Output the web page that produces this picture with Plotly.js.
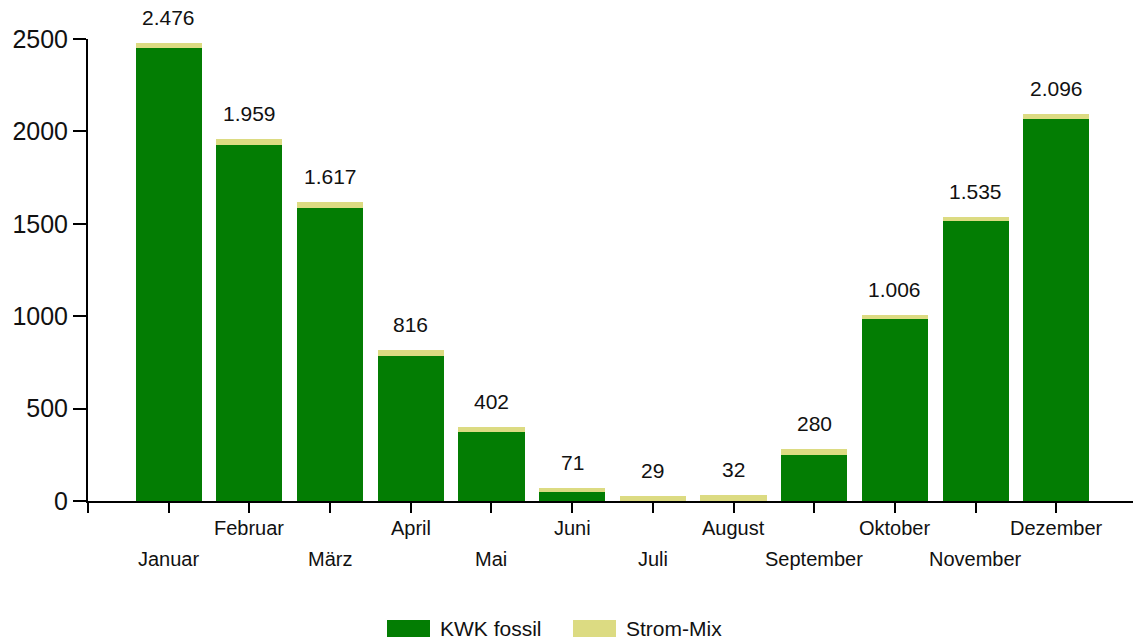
<!DOCTYPE html>
<html>
<head>
<meta charset="utf-8">
<script src="https://cdn.plot.ly/plotly-3.0.1.min.js"></script>
<style>
  html, body { margin: 0; padding: 0; background: #ffffff; }
  #chart { width: 1133px; height: 641px; }
</style>
</head>
<body>
<div id="chart"></div>
<script>
// Monthly heat demand by source
const months = ["Januar", "Februar", "März", "April", "Mai", "Juni",
                "Juli", "August", "September", "Oktober", "November", "Dezember"];
const kwkFossil = [2454, 1929, 1587, 786, 372, 49, 0, 0, 250, 984, 1513, 2066];
const stromMix  = [22, 30, 30, 30, 30, 22, 29, 32, 30, 22, 22, 30];
const totals    = [2476, 1959, 1617, 816, 402, 71, 29, 32, 280, 1006, 1535, 2096];
const yTicks    = [0, 500, 1000, 1500, 2000, 2500];

const GREEN = "#037d03";
const YELLOW = "#dcdb82";
const FONT = "Liberation Sans, Arial, sans-serif";

const idx = months.map((_, i) => i);

// German thousands separator
function fmt(n) {
  return String(n).replace(/\B(?=(\d{3})+(?!\d))/g, ".");
}

const traces = [
  { type: "bar", name: "KWK fossil", x: idx, y: kwkFossil,
    marker: { color: GREEN }, width: 0.82, showlegend: false, hoverinfo: "y" },
  { type: "bar", name: "Strom-Mix", x: idx, y: stromMix,
    marker: { color: YELLOW }, width: 0.82, showlegend: false, hoverinfo: "y" }
];

const annotations = [];
// total labels above each bar
idx.forEach(i => {
  annotations.push({
    x: i, y: totals[i], xref: "x", yref: "y",
    text: fmt(totals[i]), showarrow: false,
    yanchor: "bottom", yshift: 12,
    font: { family: FONT, size: 21, color: "#111" }
  });
});
// month labels in two staggered rows
idx.forEach(i => {
  annotations.push({
    x: i, y: 0, xref: "x", yref: "paper",
    text: months[i], showarrow: false,
    yanchor: "middle", yshift: (i % 2 === 0) ? -58 : -27,
    font: { family: FONT, size: 20, color: "#111" }
  });
});

// legend
const legendItems = [
  { label: "KWK fossil", color: GREEN, x0: 387 },
  { label: "Strom-Mix", color: YELLOW, x0: 573 }
];
const shapes = [];
legendItems.forEach(item => {
  shapes.push({
    type: "rect", xref: "paper", yref: "paper",
    x0: (item.x0 - 88) / 1045, x1: (item.x0 + 43 - 88) / 1045,
    y0: -(637 - 501) / 462, y1: -(620 - 501) / 462,
    fillcolor: item.color, line: { width: 0 }
  });
  annotations.push({
    x: (item.x0 + 51 - 88) / 1045, y: -(628.5 - 501) / 462,
    xref: "paper", yref: "paper", xanchor: "left", yanchor: "middle",
    text: item.label, showarrow: false,
    font: { family: FONT, size: 21, color: "#111" }
  });
});

const layout = {
  width: 1133, height: 641,
  margin: { l: 88, r: 0, t: 39, b: 140, pad: 0 },
  barmode: "stack",
  paper_bgcolor: "#ffffff",
  plot_bgcolor: "#ffffff",
  showlegend: false,
  font: { family: FONT, color: "#111" },
  xaxis: {
    range: [-1, 11.95],
    tickvals: [-1].concat(idx),
    showticklabels: false,
    ticks: "outside", ticklen: 10, tickwidth: 2, tickcolor: "#000",
    showline: true, linewidth: 2, linecolor: "#000",
    showgrid: false, zeroline: false, fixedrange: true
  },
  yaxis: {
    range: [0, 2500],
    tickvals: yTicks,
    ticktext: yTicks.map(String),
    ticks: "outside", ticklen: 13, tickwidth: 2, tickcolor: "#000",
    showline: true, linewidth: 2, linecolor: "#000",
    showgrid: false, zeroline: false,
    tickfont: { family: FONT, size: 25, color: "#111" },
    fixedrange: true
  },
  annotations: annotations,
  shapes: shapes
};

Plotly.newPlot("chart", traces, layout, { displayModeBar: false, staticPlot: true });
</script>
</body>
</html>
